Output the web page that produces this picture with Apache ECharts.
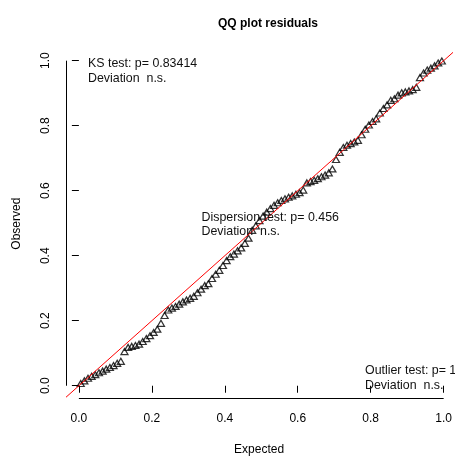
<!DOCTYPE html>
<html>
<head>
<meta charset="utf-8">
<script src="https://cdn.jsdelivr.net/npm/echarts@6.0.0/dist/echarts.min.js"></script>
<style>
  html, body { margin: 0; padding: 0; background: #ffffff; }
  #chart { width: 455px; height: 461px; }
</style>
</head>
<body>
<div id="chart"></div>
<script>
// Uniform theoretical quantiles (x) and sorted scaled residuals (y)
const expected = [
  0.005, 0.015, 0.025, 0.035, 0.045, 0.055, 0.065, 0.075, 0.085, 0.095,
  0.105, 0.115, 0.125, 0.135, 0.145, 0.155, 0.165, 0.175, 0.185, 0.195,
  0.205, 0.215, 0.225, 0.235, 0.245, 0.255, 0.265, 0.275, 0.285, 0.295,
  0.305, 0.315, 0.325, 0.335, 0.345, 0.355, 0.365, 0.375, 0.385, 0.395,
  0.405, 0.415, 0.425, 0.435, 0.445, 0.455, 0.465, 0.475, 0.485, 0.495,
  0.505, 0.515, 0.525, 0.535, 0.545, 0.555, 0.565, 0.575, 0.585, 0.595,
  0.605, 0.615, 0.625, 0.635, 0.645, 0.655, 0.665, 0.675, 0.685, 0.695,
  0.705, 0.715, 0.725, 0.735, 0.745, 0.755, 0.765, 0.775, 0.785, 0.795,
  0.805, 0.815, 0.825, 0.835, 0.845, 0.855, 0.865, 0.875, 0.885, 0.895,
  0.905, 0.915, 0.925, 0.935, 0.945, 0.955, 0.965, 0.975, 0.985, 0.995
];
const observed = [
  0.007, 0.015, 0.023, 0.029, 0.034, 0.040, 0.045, 0.051, 0.056, 0.062,
  0.069, 0.075, 0.105, 0.118, 0.121, 0.124, 0.128, 0.136, 0.145, 0.154,
  0.164, 0.174, 0.192, 0.216, 0.233, 0.239, 0.244, 0.251, 0.258, 0.264,
  0.269, 0.275, 0.286, 0.297, 0.308, 0.314, 0.330, 0.343, 0.355, 0.370,
  0.385, 0.397, 0.405, 0.415, 0.424, 0.438, 0.454, 0.478, 0.492, 0.508,
  0.522, 0.534, 0.545, 0.555, 0.563, 0.570, 0.575, 0.580, 0.584, 0.589,
  0.594, 0.602, 0.624, 0.628, 0.632, 0.637, 0.643, 0.648, 0.655, 0.667,
  0.696, 0.718, 0.733, 0.740, 0.745, 0.750, 0.755, 0.772, 0.789, 0.802,
  0.813, 0.821, 0.839, 0.853, 0.864, 0.878, 0.883, 0.894, 0.901, 0.904,
  0.907, 0.911, 0.918, 0.948, 0.962, 0.971, 0.977, 0.984, 0.993, 0.999
];
const tickValues = [0, 0.2, 0.4, 0.6, 0.8, 1.0];

// Test summaries printed inside the panel
const ksLines = ['KS test: p= 0.83414', 'Deviation  n.s.'];
const dispersionLines = ['Dispersion test: p= 0.456', 'Deviation  n.s.'];
const outlierLines = ['Outlier test: p= 1', 'Deviation  n.s.'];

// Plot region limits (data units), padded around [0, 1]
const X_MIN = -0.0334, X_MAX = 1.0217;
const Y_MIN = -0.0377, Y_MAX = 1.035;

const FONT = '"Liberation Sans", Arial, Helvetica, sans-serif';
const points = expected.map((e, i) => [e, observed[i]]);

const chart = echarts.init(document.getElementById('chart'), null, { renderer: 'canvas' });

function textBlock(lines, x, y) {
  return lines.map((t, k) => ({
    type: 'text',
    x: x,
    y: y + k * 14.5,
    silent: true,
    z: 10,
    style: {
      text: t,
      font: '12.4px ' + FONT,
      fill: '#111',
      verticalAlign: 'middle',
      align: 'left'
    }
  }));
}

const option = {
  animation: false,
  backgroundColor: '#ffffff',
  title: {
    text: 'QQ plot residuals',
    left: 263,
    top: 13,
    textAlign: 'center',
    textStyle: { fontFamily: FONT, fontSize: 12, fontWeight: 'bold', color: '#000' }
  },
  grid: { left: 66.7, right: 0, top: 49.3, bottom: 62 },
  xAxis: {
    type: 'value',
    min: X_MIN,
    max: X_MAX,
    name: 'Expected',
    nameLocation: 'middle',
    nameGap: 46,
    nameTextStyle: { fontFamily: FONT, fontSize: 12, color: '#000' },
    splitLine: { show: false },
    axisLine: { show: false },
    axisTick: { show: true, customValues: tickValues, length: 7, lineStyle: { color: '#000', width: 1 } },
    axisLabel: {
      customValues: tickValues,
      formatter: v => v.toFixed(1),
      margin: 15,
      fontFamily: FONT, fontSize: 12, color: '#000'
    }
  },
  yAxis: {
    type: 'value',
    min: Y_MIN,
    max: Y_MAX,
    name: 'Observed',
    nameLocation: 'middle',
    nameGap: 44,
    nameTextStyle: { fontFamily: FONT, fontSize: 12, color: '#000' },
    splitLine: { show: false },
    axisLine: { show: false },
    axisTick: { show: true, customValues: tickValues, length: 7, lineStyle: { color: '#000', width: 1 } },
    axisLabel: {
      customValues: tickValues,
      formatter: v => v.toFixed(1),
      rotate: 90,
      margin: 15,
      fontFamily: FONT, fontSize: 12, color: '#000'
    }
  },
  series: [
    {
      // residuals against their uniform expectation
      type: 'scatter',
      data: points,
      symbol: 'triangle',
      symbolSize: [7, 6],
      clip: false,
      silent: true,
      itemStyle: { color: 'rgba(0,0,0,0)', borderColor: '#000', borderWidth: 1.25 },
      z: 2,
      // axis lines spanning the tick range only
      markLine: {
        silent: true,
        symbol: ['none', 'none'],
        label: { show: false },
        lineStyle: { color: '#000', width: 1, type: 'solid' },
        emphasis: { disabled: true },
        data: [
          [{ coord: [0, Y_MIN] }, { coord: [1, Y_MIN] }],
          [{ coord: [X_MIN, 0] }, { coord: [X_MIN, 1] }]
        ]
      }
    },
    {
      // 1:1 reference line
      type: 'line',
      data: [[-0.1, -0.1], [1.1, 1.1]],
      showSymbol: false,
      clip: true,
      silent: true,
      lineStyle: { color: '#ff0000', width: 1 },
      z: 3
    }
  ],
  graphic: [].concat(
    textBlock(ksLines, 88, 64),
    textBlock(dispersionLines, 201.5, 217.3),
    textBlock(outlierLines, 365, 371)
  )
};

chart.setOption(option);
</script>
</body>
</html>
